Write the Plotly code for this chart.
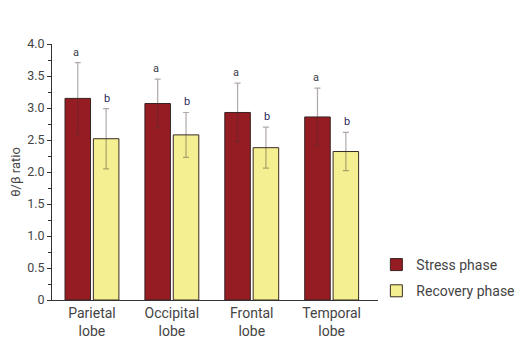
import plotly.graph_objects as go

categories = ["Parietal<br>lobe", "Occipital<br>lobe", "Frontal<br>lobe", "Temporal<br>lobe"]
stress_mean = [3.15, 3.07, 2.93, 2.86]
stress_sd = [0.56, 0.38, 0.46, 0.45]
recovery_mean = [2.52, 2.58, 2.38, 2.32]
recovery_sd = [0.47, 0.35, 0.32, 0.30]
stress_letters = ["a", "a", "a", "a"]
recovery_letters = ["b", "b", "b", "b"]

err_color = "rgba(70,50,50,0.42)"
fig = go.Figure()
fig.add_trace(go.Bar(
    x=categories, y=stress_mean, name="Stress phase", legendgroup="s",
    marker=dict(color="#961c23", line=dict(color="#3a2222", width=1)),
    error_y=dict(type="data", array=stress_sd, color=err_color, thickness=1.2, width=3),
))
fig.add_trace(go.Bar(
    x=categories, y=recovery_mean, name="Recovery phase", legendgroup="r",
    marker=dict(color="#f4f092", line=dict(color="#3a2a22", width=1)),
    error_y=dict(type="data", array=recovery_sd, color=err_color, thickness=1.2, width=3),
))

for i, c in enumerate(categories):
    fig.add_annotation(x=c, y=stress_mean[i] + stress_sd[i], text=stress_letters[i],
                       xshift=-15.5, yshift=2, yanchor="bottom", showarrow=False,
                       font=dict(size=11, color="#3a3a4a", family="Roboto"))
    fig.add_annotation(x=c, y=recovery_mean[i] + recovery_sd[i], text=recovery_letters[i],
                       xshift=15.5, yshift=2, yanchor="bottom", showarrow=False,
                       font=dict(size=11, color="#2a2a5a", family="Roboto"))

fig.update_layout(
    width=518, height=347,
    margin=dict(l=44, r=148, t=36, b=55, autoexpand=False),
    paper_bgcolor="white", plot_bgcolor="white",
    barmode="group", bargap=0.29, bargroupgap=0.1,
    font=dict(family="Roboto", color="#444444"),
    showlegend=True,
    legend=dict(x=0.995, y=0.086, xanchor="left", yanchor="middle",
                font=dict(size=14, color="#444444"), tracegroupgap=5,
                bgcolor="rgba(0,0,0,0)"),
)
fig.update_xaxes(
    range=[-0.5, 3.58], showline=True, linecolor="#333333", linewidth=1,
    ticks="", tickfont=dict(size=14, color="#444444"), showgrid=False, automargin=False,
)
fig.update_yaxes(
    range=[0, 4], tickvals=[0, 0.5, 1, 1.5, 2, 2.5, 3, 3.5, 4],
    ticktext=["0", "0.5", "1.0", "1.5", "2.0", "2.5", "3.0", "3.5", "4.0"],
    showline=True, linecolor="#333333", linewidth=1,
    ticks="outside", ticklen=4, tickcolor="#333333",
    minor=dict(dtick=0.25, ticks="outside", ticklen=3, tickcolor="#333333", showgrid=False),
    showgrid=False, zeroline=False, automargin=False,
    tickfont=dict(size=12.5, color="#444444"),
    title=dict(text="θ/β ratio", font=dict(size=13, color="#444444"), standoff=6),
)

fig.write_html("out.html")
